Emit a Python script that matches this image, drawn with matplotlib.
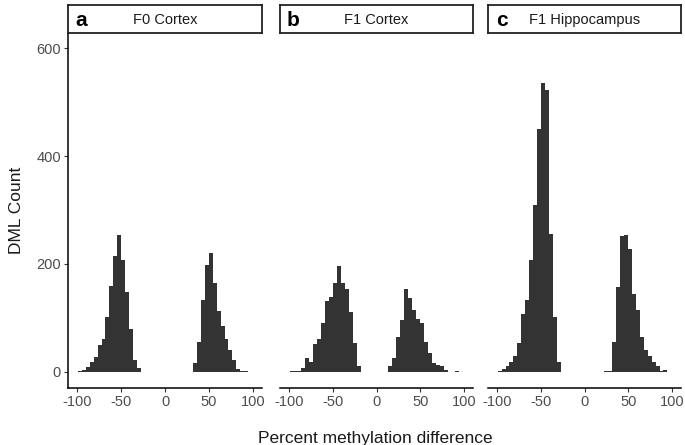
import numpy as np
import matplotlib
matplotlib.use("Agg")
import matplotlib.pyplot as plt

plt.rcParams["font.family"] = ["Liberation Sans", "DejaVu Sans"]
plt.rcParams["axes.unicode_minus"] = False

# --- data: histogram counts on a common 4.5-unit bin grid ---
BIN_EDGES = np.arange(-99, 99.1, 4.5)  # 44 bins, -99 .. 99

counts_f0_cortex = (
    [2, 3, 8, 19, 28, 49, 60, 102, 159, 215, 253, 207, 148, 80, 22, 7]
    + [0] * 13
    + [16, 55, 133, 198, 220, 165, 113, 84, 60, 41, 22, 5, 2, 1]
    + [0]
)
counts_f1_cortex = (
    [1, 1, 1, 7, 25, 18, 52, 60, 91, 132, 138, 164, 196, 165, 153, 111, 53, 11]
    + [0] * 7
    + [10, 25, 65, 96, 153, 136, 114, 97, 91, 56, 34, 16, 13, 11, 4, 0, 0, 1]
    + [0]
)
counts_f1_hippo = (
    [1, 6, 11, 19, 30, 54, 108, 134, 208, 310, 450, 536, 522, 255, 101, 19]
    + [0] * 11
    + [1, 1, 55, 158, 252, 253, 227, 145, 114, 65, 41, 30, 19, 10, 2, 3]
    + [0]
)

panel_letters = ["a", "b", "c"]
panel_titles = ["F0 Cortex", "F1 Cortex", "F1 Hippocampus"]
panel_counts = [counts_f0_cortex, counts_f1_cortex, counts_f1_hippo]

x_ticks = [-100, -50, 0, 50, 100]
y_ticks = [0, 200, 400, 600]

# --- layout (pixels of a 685x445 canvas) ---
W, H = 685, 445
panel_x = [(68, 262), (280, 473), (488, 681)]
panel_top, panel_bottom = 33, 388
strip_top, strip_bottom = 5, 33

fig = plt.figure(figsize=(W / 100, H / 100), dpi=100)

BAR_COLOR = "#333333"
TEXT_COLOR = "#4d4d4d"

for i, (x0, x1) in enumerate(panel_x):
    ax = fig.add_axes([x0 / W, 1 - panel_bottom / H, (x1 - x0) / W,
                       (panel_bottom - panel_top) / H])
    ax.stairs(panel_counts[i], BIN_EDGES, fill=True, color=BAR_COLOR,
              linewidth=0)
    ax.set_xlim(-110, 110)
    ax.set_ylim(-30, 628)
    ax.set_xticks(x_ticks)
    ax.set_yticks(y_ticks)
    for side in ["top", "right"]:
        ax.spines[side].set_visible(False)
    ax.spines["bottom"].set_linewidth(1.1)
    ax.spines["left"].set_linewidth(1.1)
    ax.tick_params(axis="both", length=3, width=0.8, color="#333333",
                   labelsize=10.5, labelcolor=TEXT_COLOR, pad=2)
    if i > 0:
        ax.spines["left"].set_visible(False)
        ax.tick_params(axis="y", left=False, labelleft=False)

    # facet strip
    sax = fig.add_axes([x0 / W, 1 - strip_bottom / H, (x1 - x0) / W,
                        (strip_bottom - strip_top) / H])
    sax.set_xticks([])
    sax.set_yticks([])
    for sp in sax.spines.values():
        sp.set_linewidth(1.3)
        sp.set_color("#222222")
    sax.text(0.07, 0.45, panel_letters[i], transform=sax.transAxes,
             ha="center", va="center", fontsize=15, fontweight="bold",
             color="black")
    sax.text(0.5, 0.45, panel_titles[i], transform=sax.transAxes,
             ha="center", va="center", fontsize=10.5, color="#1a1a1a")

fig.text(375 / W, 1 - 438 / H, "Percent methylation difference",
         ha="center", va="center", fontsize=12.5, color="#1a1a1a")
fig.text(17 / W, 1 - 210 / H, "DML Count", ha="center", va="center",
         rotation=90, fontsize=12.5, color="#1a1a1a")

fig.savefig("out.png", dpi=100)
